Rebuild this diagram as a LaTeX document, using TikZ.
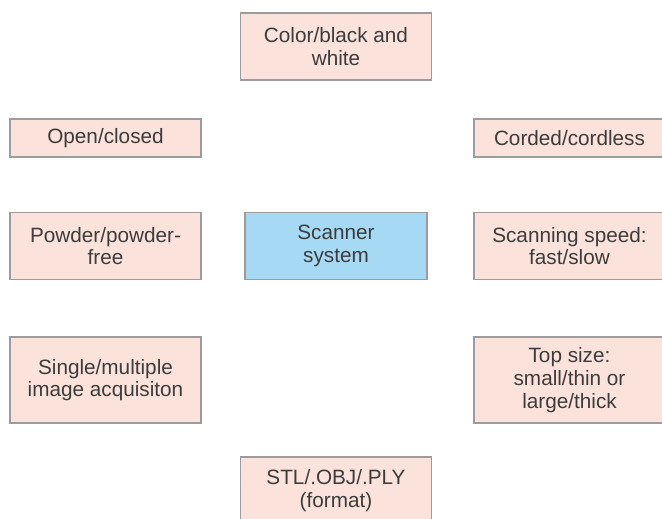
\documentclass[tikz,border=0pt]{standalone}
\usepackage{fontspec}
\setmainfont{Liberation Sans}
\usepackage{tikz}
\usetikzlibrary{positioning}
\definecolor{optfill}{HTML}{FBE3DB}
\definecolor{corefill}{HTML}{A6DAF4}
\definecolor{boxline}{HTML}{9C9C9C}
\definecolor{boxtext}{HTML}{3C3C3C}
\pgfdeclarelayer{nodelayer}
\pgfsetlayers{main,nodelayer}
\tikzset{opt/.style={draw=boxline, fill=optfill, line width=0.6pt, rectangle, text=boxtext, align=center,
inner sep=0pt, minimum width=3.82cm, font=\fontsize{11.8}{12.9}\selectfont}}
\tikzset{core/.style={opt, fill=corefill, minimum width=3.64cm}}
\tikzset{oneline/.style={minimum height=0.76cm}}
\tikzset{twoline/.style={minimum height=1.34cm}}
\tikzset{threeline/.style={minimum height=1.72cm}}

\begin{document}
\begin{tikzpicture}[x=0.02cm, y=-0.02cm]
	\clip (0, 0) rectangle (662, 519);
	\fill [white] (0, 0) rectangle (662, 519);
	\begin{pgfonlayer}{nodelayer}
		\node [style=opt, twoline] (colour) at (336, 46.5) {Color/black and\\white};
		\node [style=opt, oneline] (open) at (105.5, 138) {Open/closed};
		\node [style=opt, oneline] (corded) at (569.5, 138) {Corded/cordless};
		\node [style=opt, twoline] (powder) at (105.5, 246) {Powder/powder-\\free};
		\node [style=core, twoline] (scanner) at (336, 246) {Scanner\\system};
		\node [style=opt, twoline] (speed) at (569.5, 246) {Scanning speed:\\fast/slow};
		\node [style=opt, threeline] (image) at (105.5, 380) {Single/multiple\\image acquisiton};
		\node [style=opt, threeline] (tip) at (569.5, 380) {Top size:\\small/thin or\\large/thick};
		\node [style=opt, twoline] (format) at (336, 490.5) {STL/.OBJ/.PLY\\(format)};
	\end{pgfonlayer}
\end{tikzpicture}
\end{document}
